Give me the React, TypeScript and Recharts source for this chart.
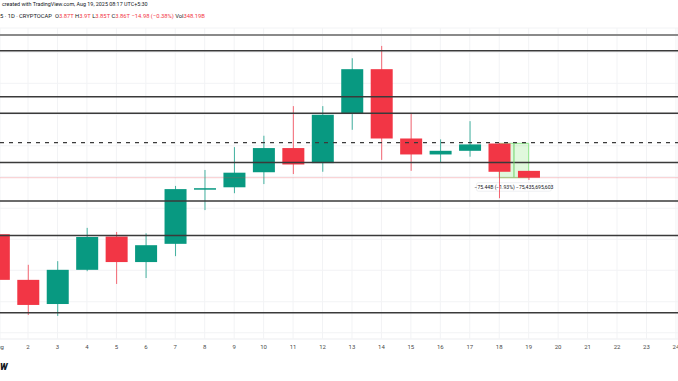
import React from 'react'
import { ComposedChart, Bar, XAxis, YAxis, CartesianGrid, ReferenceLine, ReferenceArea } from 'recharts'

// daily candles, values in billions (total cap)
const days = [1, 2, 3, 4, 5, 6, 7, 8, 9, 10, 11, 12, 13, 14, 15, 16, 17, 18, 19]
const opens = [3736, 3636, 3583, 3658, 3731, 3675, 3715, 3836, 3839, 3872, 3925, 3892, 4000, 4098, 3946, 3911, 3919, 3935, 3875]
const highs = [3750, 3669, 3677, 3750, 3741, 3738, 3842, 3877, 3927, 3952, 4017, 4017, 4122, 4149, 4001, 3944, 3984, 3936, 3875]
const lows = [3614, 3559, 3557, 3655, 3627, 3640, 3688, 3789, 3826, 3846, 3868, 3873, 3965, 3899, 3875, 3893, 3906, 3815, 3855]
const closes = [3636, 3581, 3658, 3730, 3675, 3712, 3835, 3837, 3871, 3925, 3889, 3998, 4098, 3946, 3911, 3919, 3933, 3873, 3860]

const dayTicks = [1, 2, 3, 4, 5, 6, 7, 8, 9, 10, 11, 12, 13, 14, 15, 16, 17, 18, 19, 20, 21, 22, 23, 24]
const gridTicks = [4170, 4135, 4101, 4067, 4033, 3999, 3964, 3930, 3896, 3862, 3828, 3793, 3759, 3725, 3691, 3657, 3622, 3588, 3554, 3520]

// drawn horizontal levels
const topLevel = 4173
const levels = [4138.5, 4037.6, 4001.4, 3893.3, 3808.9, 3733.2, 3563.7]
const dashedLevel = 3936.8
const lastPrice = 3860

// measure tool
const measureFrom = 18
const measureTo = 19
const measureStart = 3935.4
const measureEnd = 3860
const measureText = '\u221275.44B (\u22121.93%) \u221275,435,695,603'

const GREEN = '#089981'
const RED = '#F23645'

const candles = days.map((d, i) => ({
  day: d,
  open: opens[i],
  high: highs[i],
  low: lows[i],
  close: closes[i],
  range: [lows[i], highs[i]],
}))

function Candle(props: any) {
  const { x, y, width, height, payload } = props
  const { open, close, high, low } = payload
  const color = close >= open ? GREEN : RED
  const top = Math.min(y, y + height)
  const h = Math.abs(height)
  const ratio = h / (high - low)
  const bodyTop = top + (high - Math.max(open, close)) * ratio
  const bodyH = Math.max(1.5, Math.abs(open - close) * ratio)
  const cx = x + width / 2
  return (
    <g>
      <line x1={cx} x2={cx} y1={top} y2={top + h} stroke={color} strokeWidth={1} strokeOpacity={0.75} />
      <rect x={x} y={bodyTop} width={width} height={bodyH} fill={color} />
    </g>
  )
}

function MeasureLabel(props: any) {
  const { viewBox } = props
  if (!viewBox) return null
  const cx = viewBox.x + viewBox.width / 2
  const y = viewBox.y + viewBox.height + 5
  return (
    <g>
      <rect x={cx - 37.5} y={y} width={75} height={8.5} rx={2} fill="#fff" stroke="#e3e5ea" strokeWidth={0.6} />
      <text x={cx} y={y + 6.1} textAnchor="middle" fontSize={5.1} fill="#131722" fontFamily="Roboto">
        {measureText}
      </text>
    </g>
  )
}

const txt: React.CSSProperties = { fontFamily: 'Roboto, sans-serif', fontSize: 5.8, color: '#131722', whiteSpace: 'nowrap' }
const red: React.CSSProperties = { color: RED }

export default function App() {
  return (
    <div style={{ position: 'fixed', left: 0, top: 0, width: 678, height: 381, background: '#fff', overflow: 'hidden' }}>
      <div style={{ ...txt, position: 'absolute', left: 2, top: 1, fontSize: 5.4 }}>
        created with TradingView.com, Aug 19, 2025 08:17 UTC+5:30
      </div>
      <div style={{ ...txt, position: 'absolute', left: 0, top: 13 }}>
        5 · 1D · CRYPTOCAP&nbsp;&nbsp;O<span style={red}>3.87T</span>&nbsp;H<span style={red}>3.9T</span>&nbsp;L<span style={red}>3.85T</span>&nbsp;C<span style={red}>3.86T</span>&nbsp;<span style={red}>{'\u221214.98 (\u22120.38%)'}</span>&nbsp;Vol<span style={red}>348.19B</span>
      </div>
      <div style={{ position: 'absolute', left: 0, top: 362, fontFamily: 'Roboto, sans-serif', fontSize: 9, fontWeight: 900, fontStyle: 'italic', color: '#131722' }}>
        W
      </div>
      <ComposedChart
        width={678}
        height={381}
        data={candles}
        margin={{ top: 28, right: 0, left: 0, bottom: 0 }}
        style={{ position: 'absolute', left: 0, top: 0 }}
      >
        <CartesianGrid stroke="#f2f3f5" strokeWidth={1} />
        <XAxis
          dataKey="day"
          type="number"
          domain={[1.049, 24.07]}
          allowDataOverflow
          ticks={dayTicks}
          interval={0}
          height={42}
          tickLine={false}
          tickSize={4}
          tickMargin={2}
          axisLine={{ stroke: '#f2f3f5' }}
          tick={{ fontSize: 6, fill: '#4a4a4a', fontFamily: 'Roboto' }}
          tickFormatter={(v: number) => (v === 1 ? 'Aug' : String(v))}
        />
        <YAxis hide type="number" domain={[3506.3, 4188.3]} allowDataOverflow ticks={gridTicks} />
        <ReferenceLine y={lastPrice} stroke={RED} strokeOpacity={0.25} strokeWidth={1} />
        <Bar dataKey="range" barSize={22} shape={<Candle />} isAnimationActive={false} />
        <ReferenceLine y={topLevel} stroke="#8a8a8a" strokeWidth={2} />
        {levels.map((v) => (
          <ReferenceLine key={v} y={v} stroke="#3a3a3a" strokeWidth={1.4} />
        ))}
        <ReferenceLine y={dashedLevel} stroke="#3a3a3a" strokeWidth={1.2} strokeDasharray="4 5" />
        <ReferenceArea
          x1={measureFrom}
          x2={measureTo}
          y1={measureEnd}
          y2={measureStart}
          fill="#66dd55"
          fillOpacity={0.2}
          stroke="#8ee68a"
          strokeWidth={1}
          label={<MeasureLabel />}
        />
        <ReferenceLine
          segment={[
            { x: (measureFrom + measureTo) / 2, y: measureStart },
            { x: (measureFrom + measureTo) / 2, y: measureEnd + 1 },
          ]}
          stroke="#6fd36a"
          strokeWidth={1}
        />
      </ComposedChart>
    </div>
  )
}
